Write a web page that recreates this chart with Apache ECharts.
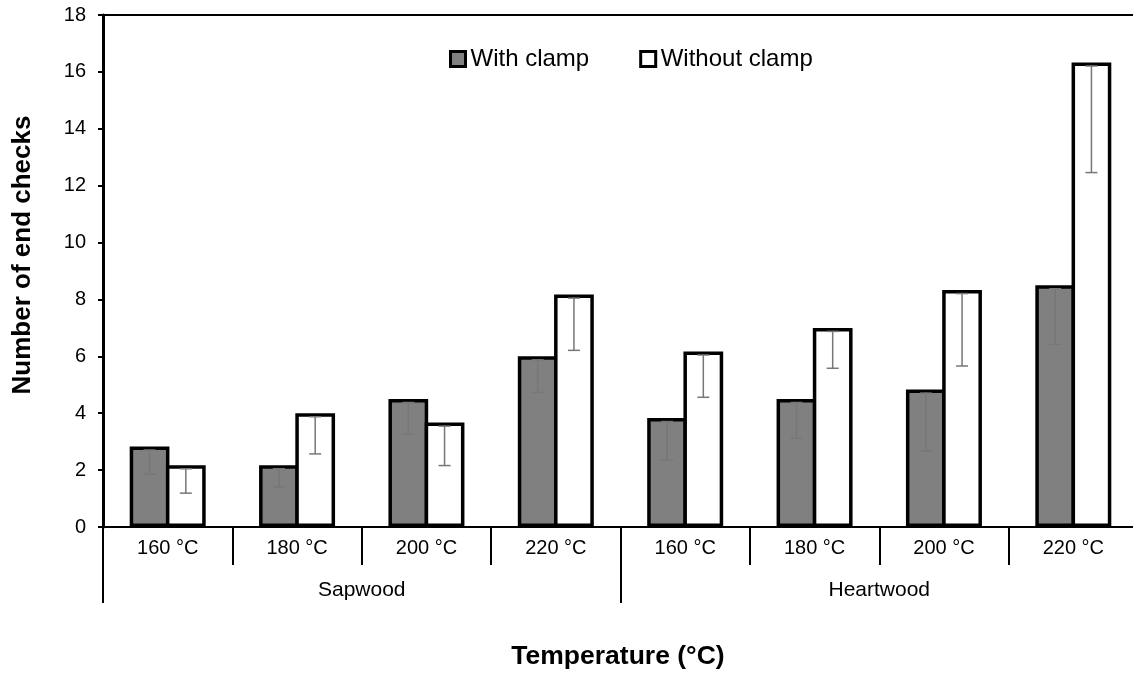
<!DOCTYPE html>
<html>
<head>
<meta charset="utf-8">
<script src="https://cdn.jsdelivr.net/npm/echarts@6/dist/echarts.min.js"></script>
<style>html,body{margin:0;padding:0;background:#fff;}#chart{width:1133px;height:675px;}</style>
</head>
<body>
<div id="chart"></div>
<script>
const temperatures = ['160 °C', '180 °C', '200 °C', '220 °C', '160 °C', '180 °C', '200 °C', '220 °C'];
const woodTypes = ['Sapwood', 'Heartwood'];
const seriesNames = ['With clamp', 'Without clamp'];
const withClamp = [2.83, 2.17, 4.5, 6.0, 3.83, 4.5, 4.83, 8.5];
const withoutClamp = [2.17, 4.0, 3.67, 8.17, 6.17, 7.0, 8.33, 16.33];
const withClampErr = [0.97, 0.76, 1.24, 1.27, 1.48, 1.38, 2.15, 2.08];
const withoutClampErr = [0.98, 1.43, 1.51, 1.96, 1.61, 1.42, 2.67, 3.87];
const yTicks = { min: 0, max: 18, interval: 2 };

const FONT = "'Liberation Sans', Arial, sans-serif";
const BAR_W = 39.75;
const BORDER = 3.5;
const GAP = -BORDER / BAR_W;
const ERR_OFF = BAR_W * (1 + GAP) / 2;

function errSeries(vals, errs, offset) {
  return {
    type: 'custom',
    z: 5,
    silent: true,
    data: vals.map((v, i) => [i, v, errs[i]]),
    encode: { x: 0, y: 1 },
    renderItem: function (params, api) {
      const i = api.value(0), v = api.value(1), e = api.value(2);
      const top = api.coord([i, v]);
      const bot = api.coord([i, v - e]);
      const x = top[0] + offset;
      const st = { stroke: '#777', lineWidth: 1.5 };
      return {
        type: 'group',
        children: [
          { type: 'line', shape: { x1: x, y1: top[1] + 3, x2: x, y2: bot[1] }, style: st },
          { type: 'line', shape: { x1: x - 6, y1: bot[1], x2: x + 6, y2: bot[1] }, style: st },
          { type: 'line', shape: { x1: x - 6, y1: top[1] + 3.5, x2: x + 6, y2: top[1] + 3.5 }, style: st }
        ]
      };
    }
  };
}

const chart = echarts.init(document.getElementById('chart'), null, { renderer: 'canvas' });
chart.setOption({
  animation: false,
  backgroundColor: '#fff',
  textStyle: { fontFamily: FONT },
  grid: { left: 103, top: 15, width: 1035, height: 512, outerBoundsMode: 'none', containLabel: false,
          show: true, borderColor: '#000', borderWidth: 2, backgroundColor: 'transparent' },
  legend: {
    data: seriesNames,
    left: 449, top: 47, padding: 0,
    icon: 'rect',
    itemWidth: 15, itemHeight: 15, itemGap: 50,
    itemStyle: { borderColor: '#000', borderWidth: 3 },
    textStyle: { fontFamily: FONT, fontSize: 24, color: '#000' }
  },
  xAxis: [
    {
      type: 'category', data: temperatures, position: 'bottom',
      axisLine: { lineStyle: { color: '#000', width: 2 } },
      axisTick: { show: true, length: 38, lineStyle: { color: '#000', width: 2 } },
      axisLabel: { color: '#000', fontSize: 20, fontFamily: FONT, margin: 11 },
      splitLine: { show: false }
    },
    {
      type: 'category', data: woodTypes, position: 'bottom',
      axisLine: { show: false },
      axisTick: { show: true, length: 76, lineStyle: { color: '#000', width: 2 } },
      axisLabel: { color: '#000', fontSize: 21, fontFamily: FONT, margin: 53 },
      splitLine: { show: false }
    }
  ],
  yAxis: {
    type: 'value', min: yTicks.min, max: yTicks.max, interval: yTicks.interval,
    axisLine: { show: true, lineStyle: { color: '#000', width: 3 } },
    axisTick: { show: true, length: 5, lineStyle: { color: '#000', width: 2 } },
    axisLabel: { color: '#000', fontSize: 20, fontFamily: FONT, margin: 17 },
    splitLine: { show: false }
  },
  graphic: [
    { type: 'text', x: 23, y: 255, rotation: Math.PI / 2,
      style: { text: 'Number of end checks', align: 'center', verticalAlign: 'middle', font: 'bold 26px ' + FONT, fill: '#000' } },
    { type: 'text', x: 618, y: 657,
      style: { text: 'Temperature (°C)', align: 'center', verticalAlign: 'middle', font: 'bold 26.5px ' + FONT, fill: '#000' } }
  ],
  series: [
    {
      name: seriesNames[0], type: 'bar', data: withClamp, barWidth: BAR_W, barGap: (GAP * 100) + '%', xAxisIndex: 0,
      itemStyle: { color: '#808080', borderColor: '#000', borderWidth: BORDER }
    },
    {
      name: seriesNames[1], type: 'bar', data: withoutClamp, barWidth: BAR_W, barGap: (GAP * 100) + '%', xAxisIndex: 0, z: 3,
      itemStyle: { color: '#fff', borderColor: '#000', borderWidth: BORDER }
    },
    errSeries(withClamp, withClampErr, -ERR_OFF),
    errSeries(withoutClamp, withoutClampErr, ERR_OFF)
  ]
});
</script>
</body>
</html>
